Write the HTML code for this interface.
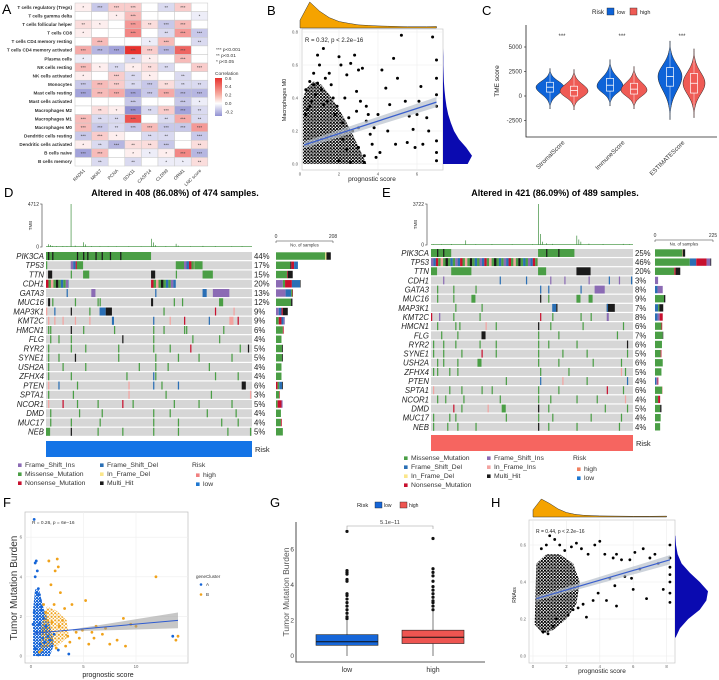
<!DOCTYPE html>
<html><head><meta charset="utf-8"><style>
html,body{margin:0;padding:0;background:#fff}
svg{display:block;font-family:"Liberation Sans",Arial,sans-serif}
</style></head><body>
<svg id="fig" width="719" height="680" viewBox="0 0 719 680" xmlns="http://www.w3.org/2000/svg">
<defs>
<pattern id="dotsK" width="3.2" height="3.2" patternUnits="userSpaceOnUse"><circle cx="1" cy="1" r="1.15" fill="#000"/><circle cx="2.6" cy="2.5" r="0.9" fill="#000"/></pattern>
<pattern id="dotsA" width="3" height="3" patternUnits="userSpaceOnUse"><circle cx="1" cy="1" r="1.2" fill="#1565d8"/><circle cx="2.5" cy="2.4" r="1" fill="#1565d8"/></pattern>
<pattern id="dotsB" width="3.6" height="3.6" patternUnits="userSpaceOnUse"><circle cx="1.2" cy="1.2" r="1.1" fill="#f0a21a"/><circle cx="3" cy="2.9" r="0.8" fill="#f0a21a"/></pattern>
</defs>
<text x="2" y="14" font-size="14">A</text>
<text x="267" y="15" font-size="13">B</text>
<text x="482" y="15" font-size="13">C</text>
<text x="4" y="197" font-size="13">D</text>
<text x="382" y="197" font-size="13">E</text>
<text x="3" y="507" font-size="13">F</text>
<text x="270" y="507" font-size="13">G</text>
<text x="491" y="507" font-size="13">H</text>
<text x="175" y="196" font-size="9" font-weight="bold" text-anchor="middle">Altered in 408 (86.08%) of 474 samples.</text>
<text x="555" y="196" font-size="9" font-weight="bold" text-anchor="middle">Altered in 421 (86.09%) of 489 samples.</text>
</svg>
<script>
const svg=document.getElementById('fig');
const NS='http://www.w3.org/2000/svg';
function mk(tag,a,p){const e=document.createElementNS(NS,tag);for(const k in a)e.setAttribute(k,a[k]);(p||svg).appendChild(e);return e;}
function tx(x,y,s,a,p){const e=mk('text',Object.assign({x:x,y:y},a||{}),p);e.textContent=s;return e;}

/* ---------- Panel A data ---------- */
const aRows=["T cells regulatory (Tregs)","T cells gamma delta","T cells follicular helper","T cells CD8","T cells CD4 memory resting","T cells CD4 memory activated","Plasma cells","NK cells resting","NK cells activated","Monocytes","Mast cells resting","Mast cells activated","Macrophages M2","Macrophages M1","Macrophages M0","Dendritic cells resting","Dendritic cells activated","B cells naive","B cells memory"];
const aCols=["RAD51","MKI67","PCNA","SOX11","CASP14","CLDN9","ORM1","LNC score"];
const aVals=[
[0.05,-0.15,0.15,0.15,0,-0.1,0.15,0],
[0,0,0.05,0.2,0,0,0,-0.05],
[0.1,0.05,0,0.3,0.1,-0.15,0.2,0],
[0.05,0,0,0.35,0,-0.1,0.3,-0.15],
[0,0.2,0,0,-0.05,0.2,0,-0.1],
[0.25,-0.2,-0.25,0.6,0.15,-0.2,0.45,0],
[-0.05,0,0,-0.1,0.05,0,0.2,0],
[0.2,0.05,-0.1,0.05,0.1,-0.1,0,0.15],
[0.05,0,0.15,-0.1,0.05,0,-0.1,0],
[-0.15,0.2,0.15,-0.1,-0.15,0.1,-0.1,-0.1],
[-0.25,0.2,0.25,-0.25,-0.15,0.25,-0.2,-0.2],
[0,0,0,-0.15,0,0,-0.15,-0.05],
[0,0.1,0.05,-0.3,-0.1,0.15,-0.25,-0.1],
[0.2,-0.1,-0.1,0.5,0,-0.1,0.25,-0.1],
[0.2,-0.15,-0.1,-0.15,0.2,-0.15,-0.15,0.3],
[-0.15,0.15,0.05,0,-0.1,-0.1,0,-0.15],
[0.05,-0.1,-0.2,0.1,0.1,-0.15,0,0.1],
[-0.25,0.2,0,0.05,-0.05,0.05,0.35,-0.2],
[0,-0.1,0,-0.1,0,-0.05,-0.05,0.1]];
const aLegendTicks=[0.6,0.4,0.2,0.0,-0.2];

/* ---------- Panel B data ---------- */
const bX=[0.3,0.5,0.7,0.9,1.2,1.0,0.8,1.5,1.6,2.0,2.1,2.4,2.6,2.8,3.0,3.2,2.3,2.9,3.1,3.4,3.5,3.8,4.0,4.2,4.4,4.6,4.8,5.0,5.2,5.4,5.6,5.8,6.0,6.2,6.5,6.8,7.0,7.0,7.0,7.0,7.0,7.0,7.0,6.3,5.9,5.5,4.9,4.5,4.1,3.7,3.3,3.0,2.7,2.5,2.2,1.9,1.7,1.4,1.1,0.6,0.4,2.0,2.6,3.3,1.3,0.9,6.6,6.1,3.6,3.9,0.3,0.5,1.8,2.2,2.9,3.4,1.2,0.7,2.4,3.0];
const bY=[0.45,0.5,0.55,0.66,0.7,0.6,0.42,0.55,0.48,0.65,0.6,0.54,0.61,0.66,0.57,0.58,0.4,0.44,0.38,0.35,0.3,0.22,0.3,0.57,0.46,0.36,0.64,0.52,0.78,0.38,0.29,0.21,0.3,0.47,0.28,0.77,0.63,0.52,0.42,0.35,0.14,0.07,0.02,0.12,0.1,0.13,0.12,0.2,0.07,0.12,0.05,0.1,0.2,0.28,0.15,0.35,0.4,0.38,0.45,0.38,0.33,0.02,0.01,0.01,0.52,0.49,0.2,0.38,0.18,0.04,0.3,0.35,0.3,0.25,0.32,0.26,0.36,0.48,0.09,0.22];
const bCore=[[0.15,0],[3.4,0],[3.1,0.08],[2.7,0.18],[2.3,0.27],[1.9,0.35],[1.5,0.42],[1.1,0.48],[0.7,0.5],[0.35,0.46],[0.15,0.4]];
const bTopX=[0,0.5,1,1.5,2,2.5,3,3.5,4,4.5,5,5.5,6,6.5,7];
const bTopD=[0.3,1,0.65,0.4,0.25,0.18,0.12,0.1,0.08,0.07,0.06,0.05,0.05,0.05,0.06];
const bRightY=[0,0.05,0.1,0.15,0.2,0.25,0.3,0.35,0.4,0.45,0.5,0.55,0.6,0.65,0.7,0.75,0.8];
const bRightD=[0.85,1,0.8,0.55,0.38,0.27,0.18,0.12,0.08,0.05,0.03,0.02,0.01,0.01,0,0,0];
const bFit=[[0.2,0.115],[7,0.375]];

/* ---------- Panel C data ---------- */
const cGroups=["StromalScore","ImmuneScore","ESTIMATEScore"];
const cMin=[[-1300,-1400],[-1000,-1300],[-2400,-2200]];
const cMax=[[2800,2700],[3700,3000],[5600,4800]];
const cMode=[[900,500],[1000,600],[2000,1300]];
const cQ1=[[400,0],[500,200],[1000,300]];
const cMed=[[900,550],[1100,700],[2000,1300]];
const cQ3=[[1400,1000],[1800,1300],[2900,2300]];
const cWid=[[14,14],[13,13],[12,11]];
const cTicks=[-2500,0,2500,5000];

/* ---------- Oncoplot data ---------- */
const dGenes=["PIK3CA","TP53","TTN","CDH1","GATA3","MUC16","MAP3K1","KMT2C","HMCN1","FLG","RYR2","SYNE1","USH2A","ZFHX4","PTEN","SPTA1","NCOR1","DMD","MUC17","NEB"];
const dPct=[44,17,15,20,13,12,9,9,6,4,5,5,4,4,6,3,5,4,4,5];
const dSegs=["0-51:M,1:K,3:K,15:K,18:K,20:K,24:K,27:K,31:K,36:K","0:M,12-15:X,15-18:M,63-67:M,67-72:X,72-76:M","1-3:K,12:M,18-21:M,51-53:K,63:M,76-81:M","0-11:X,51-63:X","10:D,22-24:I,53:D,76-78:D,81-89:I","1-2:K,3:M,14:M,25:M,26:M,51-52:K,62:M,66:M,84-86:M","0:J,4:D,12:K,21:M,26-29:D,29-32:K,57:M,82:N,91:J","1:J,4:J,8:J,14:J,21:J,32-33:D,52:D,60:J,67:N,79:D,89-91:J,93:N","1:M,2:M,12:K,18:M,33:M,52:M,57:M,67:M,68:M,86:M","2:M,6:M,12:M,37:K,52:M,71:M,84:M","1:M,12:M,19:M,35:M,52:M,60:M,70:N,94:M,98:K","1:M,6:M,14:K,35:M,53:M,64:M,74:M,90:M","1:M,8:M,19:M,45:M,53:M,59:M,79:M","1:M,12:M,39:M,52:D,53:M,82:M,93:M","1:J,6:D,15:M,40:J,52:D,56:M,64:D,95-97:K","1:M,13:M,40:J,58:M,80:M,99:J","1:J,8:N,15:M,25:M,37:N,42:M,62:M,74:M,90:M","2:M,16:M,27:M,52:M,60:M,78:M,92:M","2:M,12:M,26:M,52:M,64:M,85:M,93:M","0-2:M,12:K,25:M,37:M,52:M,64:M,88:M,99:M"];
const dBars=["M180,F4,K16","M52,K4,N10,D14","M40,N3,K18","I25,M8,N25,D30,K2","I35,D20,M5,N2","M55,K5","I10,D10,N5,K18","M10,N10,D8,I4","M25,N3","M20","M22,K3","M22,K3","M20","M20","N6,M6,D10,K3","M12,N2","M6,N14,I4","M18","M18,N3","M25"];
const dTmbPos=[1,2,3,5,8,10,12,14,18,19,22,26,30,34,40,46,51,52,53,58,63,64,70,76,82,90,95];
const dTmbVal=[300,220,120,80,90,60,4712,150,520,280,90,70,60,50,60,40,900,500,200,80,350,150,60,120,90,60,80];

const eGenes=["PIK3CA","TP53","TTN","CDH1","GATA3","MUC16","MAP3K1","KMT2C","HMCN1","FLG","RYR2","SYNE1","USH2A","ZFHX4","PTEN","SPTA1","NCOR1","DMD","MUC17","NEB"];
const ePct=[25,46,20,3,8,9,7,8,6,7,6,5,6,5,4,6,4,5,4,4];
const eSegs=["0-10:M,53-71:M,3:K,6:K,57:K,63:K","0-53:X","0-3:M,10-20:M,53-57:M,72-79:K","6:I,34:D,47:D,59:I,66:I,78:I,88:D,93:I,99:D","3:M,11:M,22:M,54:D,58:D,74:D,81-86:I","3:M,11:M,20-22:M,54:K,58:M,72-74:M,78-80:M","12:M,25:M,60-62:D,62:K,87-91:K,87:D","0:N,4:I,11:M,24:M,54:N,60:M,74:M,79:M,87-88:I","3:M,12:M,14:M,27:J,32:M,53:K,59:M,75:M,95:M","5:M,13:M,25-27:K,53:M,63:M,92:M","1:M,6:M,12:M,24:M,32:M,53:M,58:M,72:M,97:K","1:M,6:M,15:M,25:N,32:M,53:M,65:M,77:M,97:M","3:M,6:M,13:M,23-25:M,53:M,63:M,80:M,94:M","1:M,3:M,9:M,13:M,54:M,68:M,94:J,96:M","37:M,54:D,65:J,77:M,97:D","1:J,9:M,15:M,25:M,30:M,53:M,63:M,87:N,95:M","3:M,7:M,16:M,34:M,53:M,59:M,72:M,82:M,96:J","11:N,15:M,28:J,35-37:M,53:K,58:M,86:M,97:M","1:M,9:M,12:M,37:M,53:M,60:M,79:M,94:M","1:M,8:M,13:M,22:M,53:K,58:M,72:M,93:M"];
const eBars=["M105,F2,K10","M135,D25,N40,I15,K3","M75,N5,K18","I12","D10,I20","M35,K5","D12,M5,K15","D10,I8,N12","M25,N3","M30,K2","M27","M22,N3","M30","M25","D5,I5,N3","M28,J2","M12,N8","M20,K5","M22","M20"];
const eTmbPos=[1,5,10,17,22,30,40,50,53,54,55,57,60,72,73,74,78,85,95,98];
const eTmbVal=[40,60,90,420,60,80,60,60,3722,1000,300,150,100,850,500,300,120,80,100,60];

/* ---------- Panel F data ---------- */
const fAx=[0.3,0.4,0.5,0.6,0.4,0.7,0.8,0.9,1.0,0.5,0.3,0.6,1.2,1.4,0.8,0.5,1.6,1.1,0.9,0.4,2.0,2.6,3.6,13.5,0.7,0.9,1.3,0.2,1.8,2.2,0.6,1.0];
const fAy=[6.9,4.7,4.8,4.3,4.0,3.4,3.1,2.8,2.5,3.2,2.2,2.0,1.9,1.5,1.6,1.2,1.0,0.9,0.6,0.4,0.5,0.3,0.1,1.0,0.05,0.2,0.7,1.6,0.8,1.1,2.6,2.3];
const fBx=[2.5,1.7,2.3,2.6,11.9,2.8,3.2,3.9,5.2,4.3,6.2,7.1,8.8,9.5,10.0,14.0,13.8,9.0,7.5,6.0,5.5,4.6,3.5,3.0,2.2,1.9,1.4,1.2,2.7,3.7,4.9,6.8,8.2,5.8,2.0,2.4,3.3,1.6,1.0,0.8];
const fBy=[4.9,4.8,4.3,4.5,4.0,3.2,2.4,2.6,2.8,1.2,1.5,1.4,1.9,1.6,1.5,1.0,0.8,0.5,0.6,0.9,0.6,0.9,1.0,1.8,2.6,3.6,2.2,2.6,1.5,0.7,1.3,1.1,0.8,1.2,1.7,0.4,0.5,1.8,0.3,0.2];
const fCoreA=[[0.2,0],[1.8,0],[2.2,0.6],[1.8,1.6],[1.2,2.4],[0.8,3.3],[0.4,3.4],[0.2,2.4]];
const fCoreB=[[0.9,0.4],[2.5,0.5],[3.6,1.0],[3.4,1.8],[2.4,2.3],[1.5,2.5],[1.0,1.6]];
const fFit=[[0.3,1.15],[14,1.8]];

/* ---------- Panel G data ---------- */
const gCats=["low","high"];
const gQ1=[0.6,0.7],gMed=[0.8,1.05],gQ3=[1.2,1.45],gLo=[0,0],gHi=[2.0,2.5];
const gOutLow=[2.1,2.2,2.4,2.6,2.8,3.0,3.2,3.4,3.5,4.2,4.3,4.6,4.7,4.8,7.0];
const gOutHigh=[2.6,2.8,3.0,3.1,3.3,3.5,3.7,3.9,4.2,4.5,4.7,4.9,6.6];
const gTicks=[0,2,4,6];

/* ---------- Panel H data ---------- */
const hX=[0.5,0.8,1.0,1.3,1.6,1.9,2.3,2.6,2.9,3.3,3.7,4.0,4.3,4.8,5.0,5.3,5.8,6.1,6.6,7.0,7.3,8.2,8.2,8.2,8.2,8.2,8.2,8.2,7.8,6.8,6.0,5.0,4.4,3.6,3.0,2.7,3.9,4.6,5.5,6.4,7.5,2.1,1.4,0.6,0.9,1.2,2.4,3.2,5.9,4.9];
const hY=[0.58,0.6,0.65,0.63,0.6,0.57,0.59,0.61,0.58,0.55,0.6,0.62,0.55,0.53,0.55,0.52,0.52,0.56,0.58,0.53,0.55,0.6,0.53,0.48,0.44,0.4,0.34,0.29,0.36,0.31,0.36,0.27,0.3,0.3,0.28,0.26,0.34,0.42,0.43,0.47,0.5,0.22,0.2,0.13,0.12,0.16,0.25,0.21,0.42,0.38];
const hCore=[[0.1,0.17],[0.6,0.12],[1.2,0.14],[2.0,0.2],[2.6,0.28],[2.8,0.4],[2.4,0.5],[1.6,0.55],[0.8,0.55],[0.2,0.5]];
const hTopX=[0,0.5,1,1.5,2,2.5,3,3.5,4,5,6,7,8];
const hTopD=[0.4,1,0.75,0.45,0.25,0.15,0.1,0.08,0.06,0.05,0.04,0.04,0.05];
const hRightY=[0.1,0.15,0.2,0.25,0.3,0.35,0.4,0.45,0.5,0.55,0.6,0.65];
const hRightD=[0.02,0.15,0.4,0.75,0.95,1,0.75,0.45,0.2,0.08,0.03,0.01];
const hFit=[[0.2,0.31],[8.2,0.52]];

const TC={M:'#4a9e45',K:'#1a1a1a',D:'#2a6fb5',I:'#8b6bb4',N:'#c8102e',F:'#fbe68a',J:'#f3a3a0'};
const MIX=['M','I','D','N','M','J','M','K','M','D'];

/* ================= Panel A ================= */
(function(){
  const x0=75,y0=3,cw=16.6,rh=8.58;
  const g=mk('g',{});
  
  
  function col(v){
    if(v>=0){const t=Math.min(v/0.6,1);return `rgb(${Math.round(255-23*t)},${Math.round(255-205*t)},${Math.round(255-209*t)})`;}
    const t=Math.min(-v/0.3,1);return `rgb(${Math.round(255-110*t)},${Math.round(255-110*t)},${Math.round(255-45*t)})`;
  }
  aRows.forEach((r,i)=>{
    const lb=tx(x0-3,y0+i*rh+5.8,r,{'font-size':4.6,'text-anchor':'end',fill:'#333','font-weight':'bold'},g);
    
    
    aVals[i].forEach((v,j)=>{
      const c=mk('rect',{x:x0+j*cw,y:y0+i*rh,width:cw,height:rh,fill:col(v),stroke:'#c8c8c8','stroke-width':0.5},g);
      
      
      const a=Math.abs(v);const st=a>0.14?'***':a>0.08?'**':a>0.03?'*':'';
      if(st){const s=tx(x0+j*cw+cw/2,y0+i*rh+6,st,{'font-size':4.5,'text-anchor':'middle',fill:'#444'},g);
      
      }
    });
  });
  aCols.forEach((c,j)=>{
    const cx=x0+j*cw+cw/2+2;
    const t=tx(cx,171,c,{'font-size':4.6,'text-anchor':'end',fill:'#333',transform:`rotate(-45 ${cx} 171)`},g);
    
    
  });
  const lg=[['***  p<0.001',51],['**   p<0.01',57],['*    p<0.05',63]];
  lg.forEach(l=>{const t=tx(216,l[1],l[0],{'font-size':4.8,fill:'#333'},g);
  
  });
  const ct=tx(215,75,'Correlation',{'font-size':4.8,fill:'#333'},g);
  
  
  const defs=mk('defs',{},g);
  const lgd=mk('linearGradient',{id:'corrGrad',x1:0,y1:0,x2:0,y2:1},defs);
  mk('stop',{offset:'0',  'stop-color':'#e8322e'},lgd);
  mk('stop',{offset:'0.45','stop-color':'#f7b3a8'},lgd);
  mk('stop',{offset:'0.67','stop-color':'#ffffff'},lgd);
  mk('stop',{offset:'1','stop-color':'#9191d2'},lgd);
  const bar=mk('rect',{x:215,y:78,width:7,height:38,fill:'url(#corrGrad)'},g);
  
  
  aLegendTicks.forEach(v=>{
    const y=78+(0.6-v)/0.9*38;
    const t=tx(225,y+1.8,v.toFixed(1),{'font-size':4.6,fill:'#333'},g);
    
    
  });
})();

function polyPath(pts,fx,fy){return pts.map((p,i)=>(i?'L':'M')+fx(p[0]).toFixed(1)+','+fy(p[1]).toFixed(1)).join('')+'Z';}

/* ================= Panel B ================= */
(function(){
  const fx=v=>300+v*19.5, fy=v=>164-v*165;
  const g=mk('g',{});
  
  
  const box=mk('rect',{x:302,y:29,width:141,height:141,fill:'#fff',stroke:'#c8c8c8','stroke-width':0.7},g);
  
  
  [0,0.2,0.4,0.6,0.8].forEach(v=>{
    const l=mk('line',{x1:302,x2:443,y1:fy(v),y2:fy(v),stroke:'#ececec','stroke-width':0.6},g);
    
    
    const t=tx(298,fy(v)+1.5,v.toFixed(1),{'font-size':4.3,'text-anchor':'end',fill:'#555'},g);
    
    
  });
  [0,2,4,6].forEach(v=>{
    const l=mk('line',{x1:fx(v),x2:fx(v),y1:29,y2:170,stroke:'#ececec','stroke-width':0.6},g);
    
    
    const t=tx(fx(v),175.5,String(v),{'font-size':4.3,'text-anchor':'middle',fill:'#555'},g);
    
    
  });
  const core=mk('path',{d:polyPath(bCore,fx,fy),fill:'url(#dotsK)'},g);
  
  
  bX.forEach((x,i)=>{const c=mk('circle',{cx:fx(x),cy:fy(bY[i]),r:1.5,fill:'#000'},g);
  
  });
  const [a,b]=bFit;
  const band=mk('path',{d:`M${fx(a[0])},${fy(a[1]+0.02)}L${fx(b[0])},${fy(b[1]+0.03)}L${fx(b[0])},${fy(b[1]-0.03)}L${fx(a[0])},${fy(a[1]-0.02)}Z`,fill:'#b8c0cc',opacity:0.7},g);
  
  
  const ln=mk('line',{x1:fx(a[0]),y1:fy(a[1]),x2:fx(b[0]),y2:fy(b[1]),stroke:'#3a5fcd','stroke-width':1.3},g);
  
  
  const r=tx(305,42,'R = 0.32, p < 2.2e−16',{'font-size':6,fill:'#222'},g);
  
  
  const yl=tx(286,100,'Macrophages M0',{'font-size':5.5,'text-anchor':'middle',fill:'#222',transform:'rotate(-90 286 100)'},g);
  
  
  const xl=tx(372,181,'prognostic score',{'font-size':6.5,'text-anchor':'middle',fill:'#222'},g);
  
  
  let d=`M${fx(bTopX[0])},28`;bTopX.forEach((x,i)=>d+=`L${fx(x)},${28-bTopD[i]*26}`);d+=`L${fx(bTopX[bTopX.length-1])},28Z`;
  const td=mk('path',{d:d,fill:'#f5a300',stroke:'#333','stroke-width':0.5},g);
  
  
  let d2=`M443,${fy(bRightY[0])}`;bRightY.forEach((y,i)=>d2+=`L${443+bRightD[i]*29},${fy(y)}`);d2+=`L443,${fy(bRightY[bRightY.length-1])}Z`;
  const rd=mk('path',{d:d2,fill:'#0a0ab0'},g);
  
  
})();

/* ================= Panel C ================= */
(function(){
  const fy=v=>96-v*0.0098;
  const g=mk('g',{});
  
  
  const ax=mk('path',{d:'M526,25L526,137L717,137',fill:'none',stroke:'#222','stroke-width':0.8},g);
  
  
  cTicks.forEach(v=>{
    const t=tx(522,fy(v)+2,String(v),{'font-size':6,'text-anchor':'end',fill:'#333'},g);
    
    
    mk('line',{x1:524,x2:526,y1:fy(v),y2:fy(v),stroke:'#222','stroke-width':0.6},g);
  });
  const yl=tx(499,81,'TME score',{'font-size':6.5,'text-anchor':'middle',fill:'#222',transform:'rotate(-90 499 81)'},g);
  
  
  const cols=['#0e63d8','#ef5b55'];
  cGroups.forEach((name,gi)=>{
    const cx0=562+gi*60;
    [0,1].forEach(k=>{
      const cx=cx0+(k?12:-12);
      const mn=cMin[gi][k],mxv=cMax[gi][k],mo=cMode[gi][k],w=cWid[gi][k];
      const sl=(mo-mn)/2.2,sh=(mxv-mo)/2.2;
      const L=[],R=[];
      for(let s=0;s<=40;s++){const v=mn+(mxv-mn)*s/40;const sd=v<mo?sl:sh;const hw=Math.max(w*Math.exp(-Math.pow((v-mo)/sd,2)),0.4);L.push([cx-hw,fy(v)]);R.push([cx+hw,fy(v)]);}
      const d='M'+L.map(p=>p.join(',')).join('L')+'L'+R.reverse().map(p=>p.join(',')).join('L')+'Z';
      const vp=mk('path',{d:d,fill:cols[k],stroke:'#222','stroke-width':0.5},g);
      
      
      const wl=mk('line',{x1:cx,x2:cx,y1:fy(mn),y2:fy(mxv),stroke:'#fff','stroke-width':0.6,opacity:0.8},g);
      
      
      const bx=mk('rect',{x:cx-3.5,y:fy(cQ3[gi][k]),width:7,height:fy(cQ1[gi][k])-fy(cQ3[gi][k]),fill:cols[k],stroke:'#fff','stroke-width':0.7},g);
      
      
      const md=mk('line',{x1:cx-3.5,x2:cx+3.5,y1:fy(cMed[gi][k]),y2:fy(cMed[gi][k]),stroke:'#fff','stroke-width':0.8},g);
      
      
    });
    const s=tx(cx0,38,'***',{'font-size':6,'text-anchor':'middle',fill:'#333'},g);
    
    
    const t=tx(cx0+3,143,name,{'font-size':6.2,'text-anchor':'end',fill:'#333',transform:`rotate(-45 ${cx0+3} 143)`},g);
    
    
  });
  const lt=tx(592,14,'Risk',{'font-size':6.2,fill:'#222'},g);
  
  
  [['low',607,cols[0]],['high',630,cols[1]]].forEach(l=>{
    const r=mk('rect',{x:l[1],y:8,width:7,height:7,fill:l[2],stroke:'#222','stroke-width':0.4},g);
    
    
    const t=tx(l[1]+10,14,l[0],{'font-size':5.5,fill:'#222'},g);
    
    
  });
})();

/* ================= Oncoplots ================= */
function oncoplot(o){
  const g=mk('g',{});
  
  
  const W=o.x1-o.x0, px=p=>o.x0+p/100*W;
  const ax=mk('path',{d:`M${o.tx-2},${o.ty0}L${o.tx},${o.ty0}L${o.tx},${o.ty1}L${o.tx-2},${o.ty1}`,fill:'none',stroke:'#333','stroke-width':0.6},g);
  
  
  let t=tx(o.tx-3,o.ty0+2,String(o.tmbMax),{'font-size':5,'text-anchor':'end',fill:'#333'},g);
  
  
  t=tx(o.tx-3,o.ty1+1.5,'0',{'font-size':5,'text-anchor':'end',fill:'#333'},g);
  
  
  t=tx(o.tx-10,(o.ty0+o.ty1)/2,'TMB',{'font-size':4.5,'text-anchor':'middle',fill:'#333',transform:`rotate(-90 ${o.tx-10} ${(o.ty0+o.ty1)/2})`},g);
  
  
  const base=mk('line',{x1:o.x0,x2:o.x1,y1:o.ty1-0.5,y2:o.ty1-0.5,stroke:'#7fb77e','stroke-width':1},g);
  
  
  o.tmbPos.forEach((p,i)=>{
    const h=o.tmbVal[i]/o.tmbMax*(o.ty1-o.ty0);
    const b=mk('rect',{x:px(p),y:o.ty1-h,width:0.7,height:h,fill:'#3f8f3f'},g);
    
    
  });
  o.genes.forEach((gn,i)=>{
    const y=o.y0+i*o.rh;
    const bg=mk('rect',{x:o.x0,y:y,width:W,height:o.rh-1.2,fill:'#d6d6d6'},g);
    
    
    o.segs[i].split(',').forEach(tok=>{
      const [rng,ty]=tok.split(':');const pr=rng.split('-').map(Number);
      const s=pr[0],e=pr.length>1?pr[1]:pr[0]+0.6;
      if(ty==='X'){let k=0;for(let p=s;p<e;p+=1.2){const r=mk('rect',{x:px(p),y:y,width:Math.min(1.2,e-p)/100*W,height:o.rh-1.2,fill:TC[MIX[(k+++i)%MIX.length]]},g);
        
        }}
      else{const r=mk('rect',{x:px(s),y:y,width:(e-s)/100*W,height:o.rh-1.2,fill:TC[ty]},g);
        
        }
    });
    const gl=tx(o.x0-2,y+6.9,gn,{'font-size':7.8,'font-style':'italic','text-anchor':'end',fill:'#222'},g);
    
    
    const pl=tx(o.x1+2,y+6.9,o.pct[i]+'%',{'font-size':7.8,fill:'#222'},g);
    
    
    let cx=o.sx0;
    o.bars[i].split(',').forEach(tk=>{
      const ty=tk[0],n=+tk.slice(1);const w=n*o.sScale;
      const r=mk('rect',{x:cx,y:y+0.3,width:w,height:o.rh-1.8,fill:TC[ty]},g);
      
      
      cx+=w;
    });
  });
  t=tx(o.sx0,o.hy,'0',{'font-size':5,'text-anchor':'middle',fill:'#333'},g);
  
  
  t=tx(o.sx0+o.sMax*o.sScale,o.hy,String(o.sMax),{'font-size':5,'text-anchor':'middle',fill:'#333'},g);
  
  
  const hl=mk('path',{d:`M${o.sx0},${o.hy+5}L${o.sx0},${o.hy+3}L${o.sx0+o.sMax*o.sScale},${o.hy+3}L${o.sx0+o.sMax*o.sScale},${o.hy+5}`,fill:'none',stroke:'#333','stroke-width':0.5},g);
  
  
  t=tx(o.sx0+o.sMax*o.sScale/2,o.hy+8.5,'No. of samples',{'font-size':4.3,'text-anchor':'middle',fill:'#333'},g);
  
  
  const rb=mk('rect',{x:o.x0,y:o.ry,width:W,height:o.rH,fill:o.riskCol},g);
  
  
  t=tx(o.x1+3,o.ry+o.rH/2+3,'Risk',{'font-size':7.5,fill:'#222'},g);
  
  
  o.legend.forEach(l=>{
    const r=mk('rect',{x:l[1],y:l[2]-3.6,width:3.6,height:3.6,fill:TC[l[3]]||l[3]},g);
    
    
    const tt=tx(l[1]+7,l[2],l[0],{'font-size':6.8,fill:'#333'},g);
    
    
  });
  t=tx(o.riskX,o.riskY,'Risk',{'font-size':6.8,fill:'#333'},g);
  
  
}
oncoplot({name:'panel-d-oncoplot',x0:46,x1:252,y0:252,rh:9.25,genes:dGenes,pct:dPct,segs:dSegs,bars:dBars,
  tx:42,ty0:204,ty1:247,tmbMax:4712,tmbPos:dTmbPos,tmbVal:dTmbVal,sx0:276,sScale:57/208,sMax:208,hy:238,
  ry:441,rH:16,riskCol:'#1474e6',riskX:192,riskY:467,
  legend:[['Frame_Shift_Ins',18,467,'I'],['Missense_Mutation',18,476,'M'],['Nonsense_Mutation',18,485,'N'],['Frame_Shift_Del',100,467,'D'],['In_Frame_Del',100,476,'F'],['Multi_Hit',100,485,'K'],['high',196,477,'#f08080'],['low',196,486,'#1f77d0']]});
oncoplot({name:'panel-e-oncoplot',x0:431,x1:633,y0:249,rh:9.15,genes:eGenes,pct:ePct,segs:eSegs,bars:eBars,
  tx:427,ty0:204,ty1:245,tmbMax:3722,tmbPos:eTmbPos,tmbVal:eTmbVal,sx0:655,sScale:58/225,sMax:225,hy:237,
  ry:435,rH:16,riskCol:'#f66560',riskX:573,riskY:460,
  legend:[['Missense_Mutation',404,460,'M'],['Frame_Shift_Del',404,469,'D'],['In_Frame_Del',404,478,'F'],['Nonsense_Mutation',404,487,'N'],['Frame_Shift_Ins',487,460,'I'],['In_Frame_Ins',487,469,'J'],['Multi_Hit',487,478,'K'],['high',577,471,'#f08060'],['low',577,480,'#1f77d0']]});

/* ================= Panel F ================= */
(function(){
  const fx=v=>31+v*10.5, fy=v=>656-v*19.8;
  const g=mk('g',{});
  
  
  const box=mk('rect',{x:25,y:512,width:163,height:151,fill:'#fff',stroke:'#bdbdbd','stroke-width':0.7},g);
  
  
  [0,2,4,6].forEach(v=>{
    const l=mk('line',{x1:25,x2:188,y1:fy(v),y2:fy(v),stroke:'#eeeeee','stroke-width':0.6},g);
    
    
    const t=tx(22,fy(v)+1.5,String(v),{'font-size':4.3,'text-anchor':'end',fill:'#666'},g);
    
    
  });
  [0,5,10].forEach(v=>{
    const l=mk('line',{x1:fx(v),x2:fx(v),y1:512,y2:663,stroke:'#eeeeee','stroke-width':0.6},g);
    
    
    const t=tx(fx(v),668,String(v),{'font-size':4.3,'text-anchor':'middle',fill:'#666'},g);
    
    
  });
  let c=mk('path',{d:polyPath(fCoreA,fx,fy),fill:'url(#dotsA)'},g);
  
  
  c=mk('path',{d:polyPath(fCoreB,fx,fy),fill:'url(#dotsB)'},g);
  
  
  fAx.forEach((x,i)=>{const p=mk('circle',{cx:fx(x),cy:fy(fAy[i]),r:1.4,fill:'#1565d8'},g);
  
  });
  fBx.forEach((x,i)=>{const p=mk('circle',{cx:fx(x),cy:fy(fBy[i]),r:1.4,fill:'#f0a21a'},g);
  
  });
  const [a,b]=fFit;
  const band=mk('path',{d:`M${fx(4)},${fy(1.35)}L${fx(b[0])},${fy(b[1]+0.4)}L${fx(b[0])},${fy(b[1]-0.4)}L${fx(4)},${fy(1.25)}Z`,fill:'#999',opacity:0.55},g);
  
  
  const ln=mk('line',{x1:fx(a[0]),y1:fy(a[1]),x2:fx(b[0]),y2:fy(b[1]),stroke:'#2e5bd0','stroke-width':1},g);
  
  
  let t=tx(32,524,'R = 0.26, p = 6e−16',{'font-size':4.8,fill:'#333'},g);
  
  
  t=tx(17,588,'Tumor Mutation Burden',{'font-size':10,'text-anchor':'middle',fill:'#333',transform:'rotate(-90 17 588)'},g);
  
  
  t=tx(108,677,'prognostic score',{'font-size':7,'text-anchor':'middle',fill:'#222'},g);
  
  
  t=tx(196,578,'geneCluster',{'font-size':4.5,fill:'#333'},g);
  
  
  [['A',586,'#1565d8'],['B',596,'#f0a21a']].forEach(l=>{
    const d=mk('circle',{cx:201,cy:l[1]-1.5,r:1.3,fill:l[2]},g);
    
    
    const tt=tx(206,l[1],l[0],{'font-size':4.5,fill:'#333'},g);
    
    
  });
})();

/* ================= Panel G ================= */
(function(){
  const fy=v=>656-v*17.8;const cx=[347,433];const cols=['#1666d8','#ee5551'];
  const g=mk('g',{});
  
  
  const ax=mk('path',{d:'M296,522L296,662L485,662',fill:'none',stroke:'#222','stroke-width':0.8},g);
  
  
  gTicks.forEach(v=>{
    const t=tx(294,fy(v)+2.2,String(v),{'font-size':6.5,'text-anchor':'end',fill:'#444'},g);
    
    
  });
  let t=tx(289,592,'Tumor Mutation Burden',{'font-size':8.5,'text-anchor':'middle',fill:'#555',transform:'rotate(-90 289 592)'},g);
  
  
  gCats.forEach((c,i)=>{
    const w=mk('line',{x1:cx[i],x2:cx[i],y1:fy(gLo[i]),y2:fy(gHi[i]),stroke:'#222','stroke-width':0.6},g);
    
    
    const b=mk('rect',{x:cx[i]-31,y:fy(gQ3[i]),width:62,height:fy(gQ1[i])-fy(gQ3[i]),fill:cols[i],stroke:'#222','stroke-width':0.6},g);
    
    
    const m=mk('line',{x1:cx[i]-31,x2:cx[i]+31,y1:fy(gMed[i]),y2:fy(gMed[i]),stroke:'#111','stroke-width':1},g);
    
    
    (i?gOutHigh:gOutLow).forEach(v=>{const o=mk('circle',{cx:cx[i],cy:fy(v),r:1.6,fill:'#111'},g);
    
    });
    const l=tx(cx[i],672,c,{'font-size':7,'text-anchor':'middle',fill:'#333'},g);
    
    
  });
  const br=mk('path',{d:`M${cx[0]},529L${cx[0]},526L${cx[1]},526L${cx[1]},529`,fill:'none',stroke:'#999','stroke-width':0.6},g);
  
  
  t=tx(390,524,'5.1e−11',{'font-size':5.5,'text-anchor':'middle',fill:'#333'},g);
  
  
  t=tx(357,507,'Risk',{'font-size':5.8,fill:'#222'},g);
  
  
  [['low',375,cols[0]],['high',400,cols[1]]].forEach(l=>{
    const r=mk('rect',{x:l[1],y:502,width:7,height:6,fill:l[2],stroke:'#222','stroke-width':0.4},g);
    
    
    const tt=tx(l[1]+9,507,l[0],{'font-size':5,fill:'#222'},g);
    
    
  });
})();

/* ================= Panel H ================= */
(function(){
  const fx=v=>533+v*16.7, fy=v=>656-v*185;
  const g=mk('g',{});
  
  
  const box=mk('rect',{x:529,y:520,width:146,height:143,fill:'#fff',stroke:'#c8c8c8','stroke-width':0.7},g);
  
  
  [0,0.2,0.4,0.6].forEach(v=>{
    const l=mk('line',{x1:529,x2:675,y1:fy(v),y2:fy(v),stroke:'#ececec','stroke-width':0.6},g);
    
    
    const t=tx(526,fy(v)+1.5,v.toFixed(1),{'font-size':4.3,'text-anchor':'end',fill:'#666'},g);
    
    
  });
  [0,2,4,6,8].forEach(v=>{
    const l=mk('line',{x1:fx(v),x2:fx(v),y1:520,y2:663,stroke:'#ececec','stroke-width':0.6},g);
    
    
    const t=tx(fx(v),668,String(v),{'font-size':4.3,'text-anchor':'middle',fill:'#666'},g);
    
    
  });
  const core=mk('path',{d:polyPath(hCore,fx,fy),fill:'url(#dotsK)'},g);
  
  
  hX.forEach((x,i)=>{const c=mk('circle',{cx:fx(x),cy:fy(hY[i]),r:1.4,fill:'#000'},g);
  
  });
  const [a,b]=hFit;
  const band=mk('path',{d:`M${fx(a[0])},${fy(a[1]+0.012)}L${fx(b[0])},${fy(b[1]+0.025)}L${fx(b[0])},${fy(b[1]-0.025)}L${fx(a[0])},${fy(a[1]-0.012)}Z`,fill:'#b8c0cc',opacity:0.7},g);
  
  
  const ln=mk('line',{x1:fx(a[0]),y1:fy(a[1]),x2:fx(b[0]),y2:fy(b[1]),stroke:'#3a5fcd','stroke-width':1.2},g);
  
  
  let t=tx(536,533,'R = 0.44, p < 2.2e−16',{'font-size':5,fill:'#222'},g);
  
  
  t=tx(516,595,'RNAss',{'font-size':5,'text-anchor':'middle',fill:'#222',transform:'rotate(-90 516 595)'},g);
  
  
  t=tx(602,673,'prognostic score',{'font-size':6.5,'text-anchor':'middle',fill:'#222'},g);
  
  
  let d=`M${fx(hTopX[0])},517`;hTopX.forEach((x,i)=>d+=`L${fx(x)},${517-hTopD[i]*18}`);d+=`L${fx(hTopX[hTopX.length-1])},517Z`;
  const td=mk('path',{d:d,fill:'#f5a300',stroke:'#333','stroke-width':0.5},g);
  
  
  let d2=`M675,${fy(hRightY[0])}`;hRightY.forEach((y,i)=>d2+=`L${675+hRightD[i]*33},${fy(y)}`);d2+=`L675,${fy(hRightY[hRightY.length-1])}Z`;
  const rd=mk('path',{d:d2,fill:'#0a0ab0'},g);
  
  
})();
</script>
</body></html>
